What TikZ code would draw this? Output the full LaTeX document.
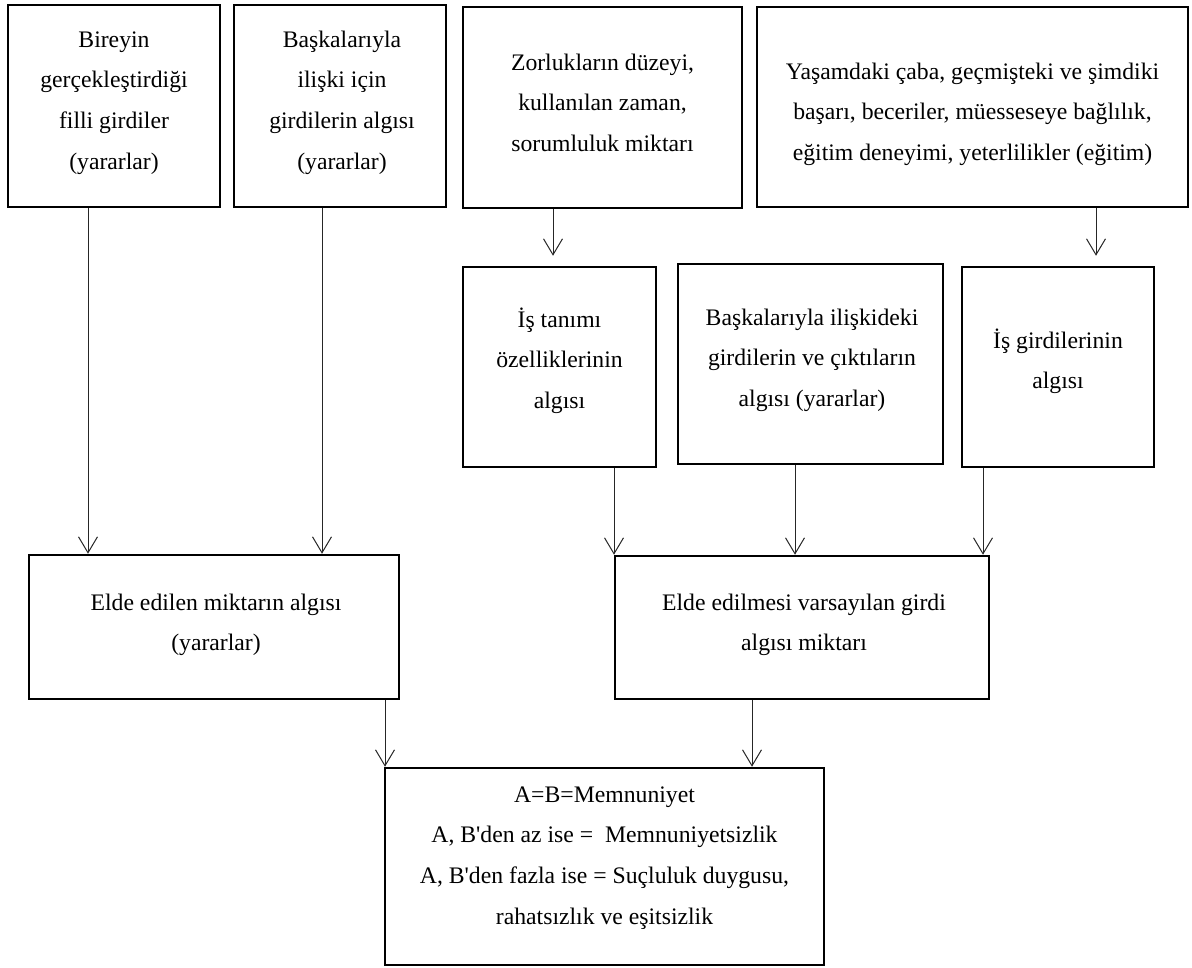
\documentclass[tikz,border=0pt]{standalone}
\usepackage{fontspec}
\setmainfont{Liberation Serif}
\usetikzlibrary{arrows.meta}
\begin{document}
\begin{tikzpicture}[x=1pt,y=-1pt,
  box/.style={draw=black, line width=2.5pt, inner sep=0pt},
  txt/.style={anchor=base, inner sep=0pt, font=\fontsize{23.7pt}{40.7pt}\selectfont},
  arr/.style={line width=1pt, draw=black!85, -{Straight Barb[length=16pt, width=19pt, line width=1pt]}}
]
\useasboundingbox (0,0) rectangle (1192,967);

% boxes
\node[box, minimum width=212pt, minimum height=202pt] (b1) at (114,106) {};
\node[box, minimum width=212pt, minimum height=202pt] (b2) at (340,106) {};
\node[box, minimum width=279pt, minimum height=201pt] (b3) at (602.5,107.5) {};
\node[box, minimum width=431pt, minimum height=200pt] (b4) at (972.5,107) {};
\node[box, minimum width=193pt, minimum height=200pt] (b5) at (559.5,367) {};
\node[box, minimum width=265pt, minimum height=200pt] (b6) at (810.5,364) {};
\node[box, minimum width=192pt, minimum height=200pt] (b7) at (1058,367) {};
\node[box, minimum width=370pt, minimum height=144pt] (e1) at (214,627) {};
\node[box, minimum width=374pt, minimum height=143pt] (e2) at (802,627.5) {};
\node[box, minimum width=439pt, minimum height=197pt] (f) at (604.5,866.5) {};

% texts
\node[txt] (t1) at (114,47) {\begin{tabular}[t]{@{}c@{}}Bireyin\\gerçekleştirdiği\\filli girdiler\\(yararlar)\end{tabular}};
\node[txt] (t2) at (342,47) {\begin{tabular}[t]{@{}c@{}}Başkalarıyla\\ilişki için\\girdilerin algısı\\(yararlar)\end{tabular}};
\node[txt] (t3) at (602.5,70) {\begin{tabular}[t]{@{}c@{}}Zorlukların düzeyi,\\kullanılan zaman,\\sorumluluk miktarı\end{tabular}};
\node[txt] (t4) at (972.5,79) {\begin{tabular}[t]{@{}c@{}}Yaşamdaki çaba, geçmişteki ve şimdiki\\başarı, beceriler, müesseseye bağlılık,\\eğitim deneyimi, yeterlilikler (eğitim)\end{tabular}};
\node[txt] (t5) at (559.5,327) {\begin{tabular}[t]{@{}c@{}}İş tanımı\\özelliklerinin\\algısı\end{tabular}};
\node[txt] (t6) at (812,325) {\begin{tabular}[t]{@{}c@{}}Başkalarıyla ilişkideki\\girdilerin ve çıktıların\\algısı (yararlar)\end{tabular}};
\node[txt] (t7) at (1058,348) {\begin{tabular}[t]{@{}c@{}}İş girdilerinin\\algısı\end{tabular}};
\node[txt] (t8) at (216,610) {\begin{tabular}[t]{@{}c@{}}Elde edilen miktarın algısı\\(yararlar)\end{tabular}};
\node[txt] (t9) at (804,610) {\begin{tabular}[t]{@{}c@{}}Elde edilmesi varsayılan girdi\\algısı miktarı\end{tabular}};
\node[txt] (t10) at (604.5,802) {\begin{tabular}[t]{@{}c@{}}A=B=Memnuniyet\\A, B\textquotesingle den az ise =\ \ Memnuniyetsizlik\\A, B\textquotesingle den fazla ise = Suçluluk duygusu,\\rahatsızlık ve eşitsizlik\end{tabular}};

% connectors
\draw[arr] ([xshift=-26pt]b1.south) -- ([xshift=-26pt]b1.south |- e1.north);
\draw[arr] ([xshift=-18pt]b2.south) -- ([xshift=-18pt]b2.south |- e1.north);
\draw[arr, shorten >=10pt] ([xshift=-49.5pt]b3.south) -- ([xshift=-49.5pt]b3.south |- b5.north);
\draw[arr, shorten >=10pt] ([xshift=123.5pt]b4.south) -- ([xshift=123.5pt]b4.south |- b7.north);
\draw[arr] ([xshift=54.5pt]b5.south) -- ([xshift=54.5pt]b5.south |- e2.north);
\draw[arr] ([xshift=-15.5pt]b6.south) -- ([xshift=-15.5pt]b6.south |- e2.north);
\draw[arr] ([xshift=-75pt]b7.south) -- ([xshift=-75pt]b7.south |- e2.north);
\draw[arr] ([xshift=171pt]e1.south) -- ([xshift=171pt]e1.south |- f.north);
\draw[arr] ([xshift=-50pt]e2.south) -- ([xshift=-50pt]e2.south |- f.north);
\end{tikzpicture}
\end{document}
